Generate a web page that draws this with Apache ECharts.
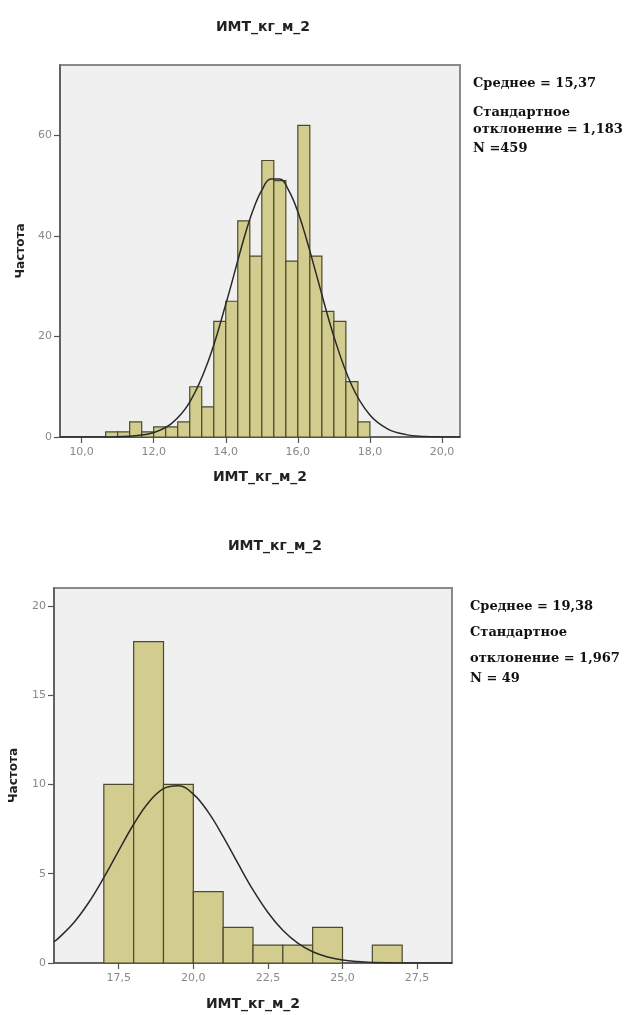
<!DOCTYPE html>
<html>
<head>
<meta charset="utf-8">
<script src="https://cdn.jsdelivr.net/npm/echarts@6/dist/echarts.min.js"></script>
<style>
html,body{margin:0;padding:0;background:#fff;}
#c{width:629px;height:1015px;}
</style>
</head>
<body>
<div id="c"></div>
<script>
// ---- Top histogram ----
const topTitle = 'ИМТ_кг_м_2';
const topEdges = [10.667, 11.0, 11.333, 11.667, 12.0, 12.333, 12.667, 13.0, 13.333, 13.667, 14.0, 14.333, 14.667, 15.0, 15.333, 15.667, 16.0, 16.333, 16.667, 17.0, 17.333, 17.667, 18.0];
const topCounts = [1, 1, 3, 1, 2, 2, 3, 10, 6, 23, 27, 43, 36, 55, 51, 35, 62, 36, 25, 23, 11, 3];
const topCurveX = [9.4, 10.0, 10.5, 11.0, 11.5, 12.0, 12.5, 13.0, 13.5, 14.0, 14.5, 14.75, 15.0, 15.25, 15.5, 15.75, 16.0, 16.25, 16.5, 17.0, 17.5, 18.0, 18.5, 19.0, 19.5, 20.0, 20.5];
const topCurveY = [0, 0, 0.01, 0.06, 0.25, 0.89, 2.72, 6.94, 14.8, 26.4, 39.4, 45.0, 49.1, 51.3, 51.3, 49.0, 44.8, 39.1, 32.7, 20.0, 10.2, 4.36, 1.56, 0.47, 0.12, 0.02, 0];
const topXTicks = [10, 12, 14, 16, 18, 20];
const topYTicks = [0, 20, 40, 60];
const topStats = ['Среднее = 15,37', 'Стандартное', 'отклонение = 1,183', 'N =459'];

// ---- Bottom histogram ----
const botTitle = 'ИМТ_кг_м_2';
const botEdges = [17, 18, 19, 20, 21, 22, 23, 24, 25, 26, 27];
const botCounts = [10, 18, 10, 4, 2, 1, 1, 2, 0, 1];
const botCurveX = [15.33, 15.5, 16.0, 16.5, 17.0, 17.5, 18.0, 18.5, 19.0, 19.5, 20.0, 20.5, 21.0, 21.5, 22.0, 22.5, 23.0, 23.5, 24.0, 24.5, 25.0, 25.5, 26.0, 27.0, 28.67];
const botCurveY = [1.19, 1.42, 2.27, 3.40, 4.78, 6.29, 7.77, 8.99, 9.76, 9.92, 9.46, 8.45, 7.08, 5.56, 4.09, 2.83, 1.83, 1.11, 0.63, 0.34, 0.17, 0.08, 0.035, 0.005, 0];
const botXTicks = [17.5, 20.0, 22.5, 25.0, 27.5];
const botYTicks = [0, 5, 10, 15, 20];
const botStats = ['Среднее = 19,38', 'Стандартное', 'отклонение = 1,967', 'N = 49'];
const yName = 'Частота';

const BAR_FILL = '#d3cc8f';
const BAR_EDGE = '#4b4a2c';
const SANS = '"DejaVu Sans"';
const fmt1 = v => v.toFixed(1).replace('.', ',');

function histData(edges, counts) {
  return counts.map((c, i) => [edges[i], edges[i + 1], c]);
}
function curveData(xs, ys) {
  return xs.map((x, i) => [x, ys[i]]);
}
function renderBar(params, api) {
  const lo = api.coord([api.value(0), 0]);
  const hi = api.coord([api.value(1), api.value(2)]);
  if (api.value(2) <= 0) return null;
  return {
    type: 'rect',
    shape: { x: lo[0], y: hi[1], width: hi[0] - lo[0], height: lo[1] - hi[1] },
    style: { fill: BAR_FILL, stroke: BAR_EDGE, lineWidth: 1.2 }
  };
}

function xAxisCfg(gi, min, max, ticks, nameGap, name) {
  return {
    type: 'value', gridIndex: gi, min: min, max: max,
    name: name, nameLocation: 'middle', nameGap: nameGap,
    nameTextStyle: { fontFamily: SANS, fontWeight: 'bold', fontSize: 14, color: '#222' },
    splitLine: { show: false },
    axisLine: { onZero: false, lineStyle: { color: '#555', width: 1.5 } },
    axisTick: { show: true, customValues: ticks, length: 6, lineStyle: { color: '#555', width: 1.2 } },
    axisLabel: { customValues: ticks, formatter: fmt1, color: '#888', fontSize: 11, fontFamily: SANS, margin: 10 }
  };
}
function yAxisCfg(gi, max, ticks, nameGap) {
  return {
    type: 'value', gridIndex: gi, min: 0, max: max,
    name: yName, nameLocation: 'middle', nameGap: nameGap, nameRotate: 90,
    nameTextStyle: { fontFamily: SANS, fontWeight: 'bold', fontSize: 12, color: '#222' },
    splitLine: { show: false },
    axisLine: { show: true, lineStyle: { color: '#555', width: 1.5 } },
    axisTick: { show: true, customValues: ticks, length: 6, lineStyle: { color: '#555', width: 1.2 } },
    axisLabel: { customValues: ticks, color: '#888', fontSize: 11, fontFamily: SANS, margin: 8 }
  };
}
function statsText(lines, x, ys) {
  return lines.map((t, i) => ({
    type: 'text', left: x, top: ys[i],
    style: { text: t, fill: '#111', font: 'bold 13px "DejaVu Serif"' }
  }));
}

const chart = echarts.init(document.getElementById('c'), null, { renderer: 'canvas' });
chart.setOption({
  animation: false,
  backgroundColor: '#ffffff',
  title: [
    { text: topTitle, left: 258, top: 15, textAlign: 'center',
      textStyle: { fontFamily: SANS, fontWeight: 'bold', fontSize: 14, color: '#222' } },
    { text: botTitle, left: 270, top: 534, textAlign: 'center',
      textStyle: { fontFamily: SANS, fontWeight: 'bold', fontSize: 14, color: '#222' } }
  ],
  grid: [
    { left: 60, top: 65, width: 400, height: 372, show: true, backgroundColor: '#f0f0f0', borderColor: '#8a8a8a', borderWidth: 2 },
    { left: 52, top: 588, width: 400, height: 375, show: true, backgroundColor: '#f0f0f0', borderColor: '#8a8a8a', borderWidth: 2 }
  ],
  xAxis: [
    xAxisCfg(0, 9.4, 20.5, topXTicks, 33, topTitle),
    xAxisCfg(1, 15.33, 28.67, botXTicks, 34, botTitle)
  ],
  yAxis: [
    yAxisCfg(0, 74, topYTicks, 28),
    yAxisCfg(1, 21, botYTicks, 34)
  ],
  series: [
    { type: 'custom', xAxisIndex: 0, yAxisIndex: 0, renderItem: renderBar, data: histData(topEdges, topCounts), z: 2 },
    { type: 'line', xAxisIndex: 0, yAxisIndex: 0, data: curveData(topCurveX, topCurveY), smooth: 0.4, showSymbol: false,
      lineStyle: { color: '#2a2a2a', width: 1.5 }, z: 3 },
    { type: 'custom', xAxisIndex: 1, yAxisIndex: 1, renderItem: renderBar, data: histData(botEdges, botCounts), z: 2 },
    { type: 'line', xAxisIndex: 1, yAxisIndex: 1, data: curveData(botCurveX, botCurveY), smooth: 0.4, showSymbol: false,
      lineStyle: { color: '#2a2a2a', width: 1.5 }, z: 3 }
  ],
  graphic: [].concat(
    statsText(topStats, 473, [77, 106, 123, 142]),
    statsText(botStats, 470, [600, 626, 652, 672])
  )
});
</script>
</body>
</html>
